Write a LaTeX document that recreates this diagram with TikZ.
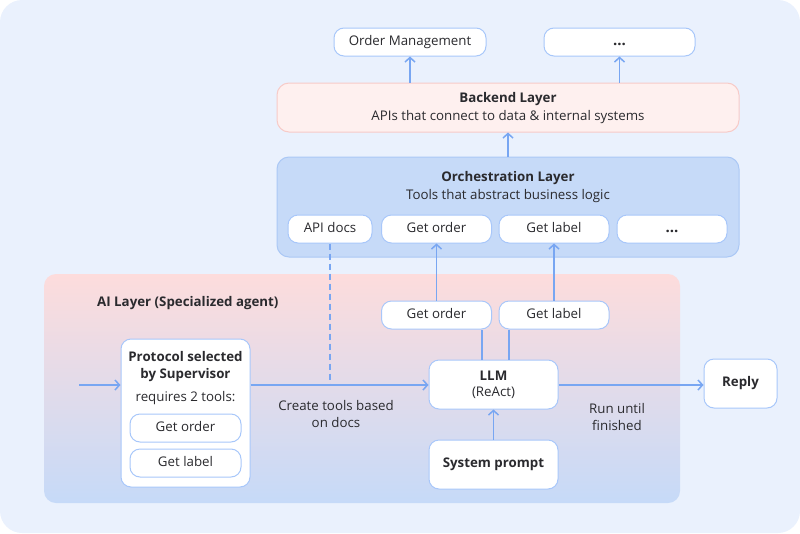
\documentclass[tikz,border=0pt]{standalone}
\usepackage{fontspec}
\setmainfont{Open Sans}
\usetikzlibrary{arrows.meta,shadings}
\definecolor{bgc}{HTML}{EAF1FD}
\definecolor{bordc}{HTML}{A8C7FA}
\definecolor{arrc}{HTML}{78A6F2}
\definecolor{orchf}{HTML}{C6DAF8}
\definecolor{orchb}{HTML}{ABC8F5}
\definecolor{backf}{HTML}{FEF0EF}
\definecolor{backb}{HTML}{F7CBC8}
\definecolor{aitop}{HTML}{FDDCDC}
\definecolor{aibot}{HTML}{C6DAF8}
\definecolor{txt}{HTML}{2A2A2E}
\tikzset{
  txtfont/.style={font=\fontsize{13.3}{16}\selectfont, text=txt},
  wbox/.style={draw=bordc, line width=1pt, fill=white, rounded corners=10pt, inner sep=0pt, txtfont, align=center, text height=0.75em, text depth=0.1em},
  ebox/.style={draw=bordc, line width=1pt, fill=white, rounded corners=10pt, inner sep=0pt},
  layer/.style={line width=1pt, rounded corners=12pt, inner sep=0pt},
  arr/.style={draw=arrc, line width=1.8pt, -{Straight Barb[length=4.5pt,width=10pt,line width=1.5pt]}},
  plain/.style={draw=arrc, line width=1.8pt},
  lbl/.style={txtfont, align=center, inner sep=0pt, text height=0.75em, text depth=0.1em},
  mlbl/.style={txtfont, align=center, inner sep=0pt},
  dotsf/.style={font=\fontsize{15}{16}\selectfont\bfseries},
}
\begin{document}
\begin{tikzpicture}[x=1pt,y=-1pt]
\useasboundingbox (0,0) rectangle (800,533);
\fill[bgc, rounded corners=22pt] (0,0) rectangle (800,533);

% layers
\node[layer, draw=backb, fill=backf, minimum width=462, minimum height=49] (backend) at (508,107.5) {};
\node[lbl] (backt) at (508,99.5) {\bfseries Backend Layer};
\node[lbl] (backs) at (508,117) {APIs that connect to data \& internal systems};

\node[layer, draw=orchb, fill=orchf, minimum width=462, minimum height=100] (orch) at (508,207) {};
\node[lbl] (orcht) at (508,178) {\bfseries Orchestration Layer};
\node[lbl] (orchs) at (508,196.5) {Tools that abstract business logic};

\node[layer, draw=none, top color=aitop, bottom color=aibot, minimum width=636, minimum height=229] (ai) at (362,388.5) {};
\node[lbl, anchor=west] (ait) at (97,303.5) {\bfseries AI Layer (Specialized agent)};

% top boxes
\node[wbox, minimum width=152, minimum height=28] (om) at (410,42) {Order Management};
\node[wbox, minimum width=151, minimum height=28, dotsf] (dots1) at (619.5,42) {...};

% orchestration tools
\node[wbox, minimum width=84, minimum height=28] (api) at (330,229) {API docs};
\node[wbox, minimum width=110, minimum height=28] (og) at (436.5,229) {Get order};
\node[wbox, minimum width=110, minimum height=28] (ol) at (554,229) {Get label};
\node[wbox, minimum width=110, minimum height=28, dotsf] (od) at (672,229) {...};

% AI layer tools
\node[wbox, minimum width=110, minimum height=28] (ag) at (436.5,315) {Get order};
\node[wbox, minimum width=110, minimum height=28] (al) at (554,315) {Get label};

% protocol box
\node[ebox, minimum width=129, minimum height=148] (proto) at (185.5,413) {};
\node[lbl] (pt1) at (185.5,358.5) {\bfseries Protocol selected};
\node[lbl] (pt2) at (185.5,375.5) {\bfseries by Supervisor};
\node[lbl] (pt3) at (185.5,398) {requires 2 tools:};
\node[wbox, minimum width=111, minimum height=28] (pg) at (185.5,428) {Get order};
\node[wbox, minimum width=111, minimum height=28] (pl) at (185.5,463) {Get label};

% LLM etc.
\node[ebox, minimum width=129, minimum height=49] (llm) at (493.5,384.5) {};
\node[lbl] (llmt) at (493.5,377) {\bfseries LLM};
\node[lbl] (llms) at (493.5,393.5) {(ReAct)};
\node[wbox, minimum width=129, minimum height=49] (sys) at (493.5,464.5) {\bfseries System prompt};
\node[wbox, minimum width=73, minimum height=49] (reply) at (740.5,383.5) {\bfseries Reply};

% labels
\node[lbl] (ctl1) at (336,407.5) {Create tools based};
\node[lbl] (ctl2) at (336,424.5) {on docs};
\node[lbl] (rul1) at (617,410.5) {Run until};
\node[lbl] (rul2) at (617,427.5) {finished};

% connectors
\coordinate (inp) at (79,385);
\draw[arr] (inp) -- (proto.west |- inp);
\draw[arr] (proto.east |- inp) -- (llm.west |- inp);
\coordinate (dj) at (api.south |- inp);
\draw[draw=arrc, line width=1.8pt, dash pattern=on 6pt off 4pt] (api.south) -- (dj);
\draw[arr] (llm.east |- inp) -- (reply.west |- inp);
\draw[arr] (sys.north) -- (llm.south);
\draw[plain] (482,0 |- llm.north) -- (482,0 |- ag.south);
\draw[plain] (509,0 |- llm.north) -- (509,0 |- al.south);
\draw[arr] (ag.north) -- (og.south);
\draw[arr] (al.north) -- (ol.south);
\draw[arr] (orch.north) -- (backend.south);
\draw[arr] (backend.north -| om.south) -- (om.south);
\draw[arr] (backend.north -| dots1.south) -- (dots1.south);
\end{tikzpicture}
\end{document}
